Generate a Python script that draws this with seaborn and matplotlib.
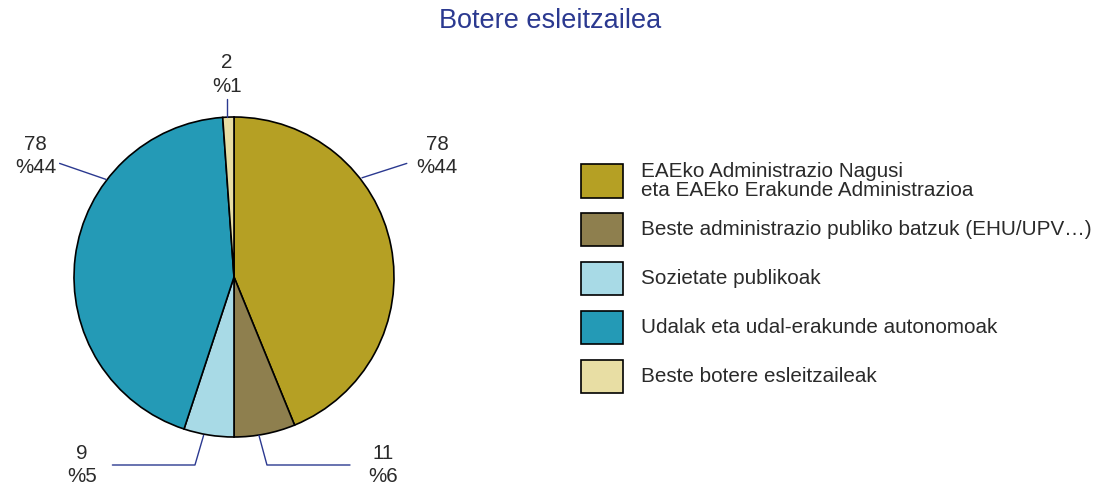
import matplotlib
matplotlib.use("Agg")
import matplotlib.pyplot as plt
import seaborn as sns
from matplotlib.patches import Rectangle

# Data
categories = ["EAEko Administrazio Nagusi\neta EAEko Erakunde Administrazioa",
              "Beste administrazio publiko batzuk (EHU/UPV…)",
              "Sozietate publikoak",
              "Udalak eta udal-erakunde autonomoak",
              "Beste botere esleitzaileak"]
counts = [78, 11, 9, 78, 2]
percents = [44, 6, 5, 44, 1]
colors = ["#B5A024", "#8E7F4E", "#A8DAE6", "#249AB6", "#E8DEA4"]

sns.set_style("white")
plt.rcParams['font.family'] = ['Liberation Sans', 'DejaVu Sans']

fig = plt.figure(figsize=(10.97, 4.88), dpi=100)
W, H = 1097, 488

# pie axes: center (234, 277) px, radius 160 px
ax = fig.add_axes([(234 - 200) / W, (H - 277 - 200) / H, 400 / W, 400 / H])
ax.pie(counts, colors=colors, startangle=90, counterclock=False,
       wedgeprops=dict(edgecolor="black", linewidth=1.2))
ax.set_xlim(-1.25, 1.25)
ax.set_ylim(-1.25, 1.25)
ax.set_aspect("equal")
ax.axis("off")

line_col = "#2B3990"
txt_col = "#2a2a2a"
lab_fs = 14.8
labels = [f"{c}\n%{p}" for c, p in zip(counts, percents)]

# leader lines + labels (xy on wedge edge -> text)
ann = [
    ([(0.80, 0.62), (1.08, 0.71)], (1.27, 0.756)),
    ([(0.156, -0.99), (0.206, -1.175), (0.725, -1.175)], (0.93, -1.175)),
    ([(-0.19, -0.99), (-0.244, -1.175), (-0.76, -1.175)], (-0.95, -1.175)),
    ([(-0.80, 0.61), (-1.09, 0.71)], (-1.24, 0.756)),
    ([(-0.044, 1.0), (-0.044, 1.11)], (-0.044, 1.265)),
]
for lab, (pts, tpos) in zip(labels, ann):
    xs, ys = zip(*pts)
    ax.plot(xs, ys, color=line_col, lw=1, clip_on=False)
    ax.text(tpos[0], tpos[1], lab, ha="center", va="center", fontsize=lab_fs,
            color=txt_col, linespacing=1.3, clip_on=False)

# title
fig.text(550 / W, 1 - 21 / H, "Botere esleitzailea", ha="center", va="center",
         fontsize=19.5, color=line_col)

# legend
box_w, box_h = 42, 33
for i, (cat, col) in enumerate(zip(categories, colors)):
    cy = 181 + i * 48.8
    fig.add_artist(Rectangle((581 / W, 1 - (cy + box_h / 2) / H), box_w / W, box_h / H,
                             transform=fig.transFigure, facecolor=col,
                             edgecolor="black", linewidth=1.2))
    fig.text(641 / W, 1 - cy / H, cat, ha="left", va="center", fontsize=14.9,
             color=txt_col, linespacing=1.05)

fig.savefig("out.png", dpi=100)
